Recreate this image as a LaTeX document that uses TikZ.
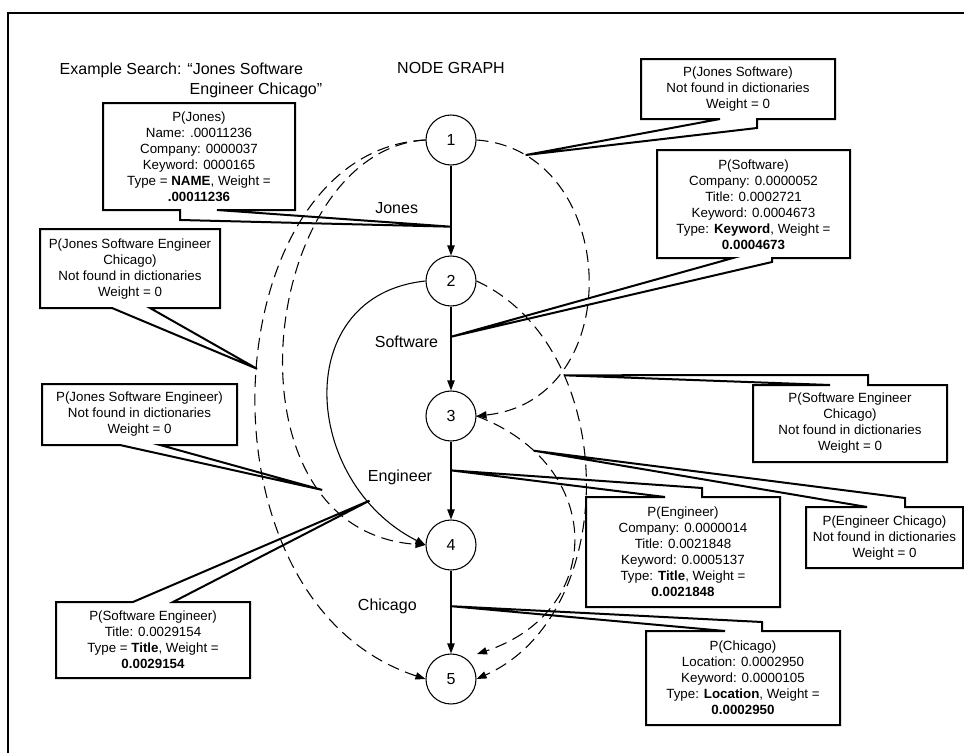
\documentclass[tikz,border=0pt]{standalone}
\usepackage{fontspec}
\setmainfont{Liberation Sans}
\usetikzlibrary{arrows.meta}

\tikzset{
  gnode/.style={circle, draw, line width=0.8pt, minimum size=37.5pt, inner sep=0pt, font=\fontsize{12}{14}\selectfont},
  edge/.style={->, line width=0.8pt},
  dashedge/.style={->, line width=0.8pt, dash pattern=on 9pt off 5pt},
  lbl/.style={font=\fontsize{12}{14}\selectfont},
  calltext/.style={align=center, font=\fontsize{10}{12}\selectfont, inner sep=0pt},
  callout/.style={line width=1.5pt},
}

\begin{document}
\begin{tikzpicture}[x=0.75pt, y=-0.75pt, >={Triangle[length=7.5pt,width=5.5pt]}]
    \useasboundingbox (0,0) rectangle (964,753);
    \draw[line width=1.5pt] (8,753) -- (8,13) -- (964,13);

    \node[lbl, anchor=west] (search1) at (55,70) {Example Search: “Jones Software};
    \node[lbl, anchor=west] (search2) at (185,90) {Engineer Chicago”};
    \node[lbl] (title) at (451,68) {NODE GRAPH};

    % graph nodes
    \node[gnode] (n1) at (451,140) {1};
    \node[gnode] (n2) at (451,281) {2};
    \node[gnode] (n3) at (451,416) {3};
    \node[gnode] (n4) at (451,545) {4};
    \node[gnode] (n5) at (451,679) {5};
    \coordinate (n5ne) at (477,654);

    % one word edges
    \draw[edge] (n1) -- node[lbl, pos=0.47, left=21pt] (lJones) {Jones} coordinate[pos=0.68] (tJones) (n2);
    \draw[edge] (n2) -- node[lbl, pos=0.42, left=6pt] (lSoft) {Software} coordinate[pos=0.36] (tSoft) (n3);
    \draw[edge] (n3) -- node[lbl, pos=0.46, left=10.5pt] (lEng) {Engineer} coordinate[pos=0.37] (tEng) (n4);
    \draw[edge] (n4) -- node[lbl, pos=0.43, left=22pt] (lChi) {Chicago} coordinate[pos=0.43] (tChi) (n5);

    % several word edges
    \draw[edge] (n2.west) .. controls (290,295) and (301,482) .. coordinate[pos=0.82] (tSE) (n4.west);
    \draw[dashedge] (n1.west) .. controls (260,150) and (215,530) .. coordinate[pos=0.78] (tJSE) (n4.west);
    \draw[dashedge] (n1.west) .. controls (215,150) and (185,600) .. coordinate[pos=0.48] (tJSEC) (n5.west);
    \draw[dashedge] (n1.east) .. controls (620,150) and (630,400) .. coordinate[pos=0.13] (tJS) (n3.east);
    \draw[dashedge] (n2.east) .. controls (621,348) and (622,614) .. coordinate[pos=0.28] (tSEC) (n5.east);
    \draw[dashedge] (n3.east) .. controls (606,465) and (606,611) .. coordinate[pos=0.18] (tEC) (n5ne);

    % callouts
    \draw[callout] (641,59) -- (835,59) -- (835,119) -- (757,119) -- (757,128) -- (tJS) -- (720,119) -- (641,119) -- cycle;
    \node[calltext] (cJS) at (738,89) {P(Jones Software)\\Not found in dictionaries\\Weight = 0};

    \draw[callout] (657,150) -- (850,150) -- (850,258) -- (772,258) -- (772,262) -- (tSoft) -- (733,258) -- (657,258) -- cycle;
    \node[calltext] (cSoft) at (753.5,205) {P(Software)\\Company: 0.0000052\\Title: 0.0002721\\Keyword: 0.0004673\\Type: \textbf{Keyword}, Weight =\\\textbf{0.0004673}};

    \draw[callout] (103,103) -- (295,103) -- (295,210) -- (217,210) -- (tJones) -- (180,220) -- (180,210) -- (103,210) -- cycle;
    \node[calltext] (cJones) at (199,157) {P(Jones)\\Name: .00011236\\Company: 0000037\\Keyword: 0000165\\Type = \textbf{NAME}, Weight =\\\textbf{.00011236}};

    \draw[callout] (40,229) -- (220,229) -- (220,308) -- (150,308) -- (tJSEC) -- (112,308) -- (40,308) -- cycle;
    \node[calltext] (cJSEC) at (130,269) {P(Jones Software Engineer\\Chicago)\\Not found in dictionaries\\Weight = 0};

    \draw[callout] (42,384) -- (237,384) -- (237,445) -- (160,445) -- (tJSE) -- (120,445) -- (42,445) -- cycle;
    \node[calltext] (cJSE) at (139.5,414.5) {P(Jones Software Engineer)\\Not found in dictionaries\\Weight = 0};

    \draw[callout] (753,385) -- (830,385) -- (tSEC) -- (868,375) -- (868,385) -- (947,385) -- (947,462) -- (753,462) -- cycle;
    \node[calltext] (cSEC) at (850,423.5) {P(Software Engineer\\Chicago)\\Not found in dictionaries\\Weight = 0};

    \draw[callout] (806,507) -- (867,507) -- (tEC) -- (905,498) -- (905,507) -- (963,507) -- (963,568) -- (806,568) -- cycle;
    \node[calltext] (cEC) at (884.5,538) {P(Engineer Chicago)\\Not found in dictionaries\\Weight = 0};

    \draw[callout] (586,497) -- (665,497) -- (tEng) -- (702,488) -- (702,497) -- (780,497) -- (780,607) -- (586,607) -- cycle;
    \node[calltext] (cEng) at (683,551.5) {P(Engineer)\\Company: 0.0000014\\Title: 0.0021848\\Keyword: 0.0005137\\Type: \textbf{Title}, Weight =\\\textbf{0.0021848}};

    \draw[callout] (646,631) -- (725,631) -- (tChi) -- (762,622) -- (762,631) -- (840,631) -- (840,725) -- (646,725) -- cycle;
    \node[calltext] (cChi) at (743,677.5) {P(Chicago)\\Location: 0.0002950\\Keyword: 0.0000105\\Type: \textbf{Location}, Weight =\\\textbf{0.0002950}};

    \draw[callout] (56,602) -- (133,602) -- (tSE) -- (173,602) -- (250,602) -- (250,678) -- (56,678) -- cycle;
    \node[calltext] (cSE) at (153,640) {P(Software Engineer)\\Title: 0.0029154\\Type = \textbf{Title}, Weight =\\\textbf{0.0029154}};
  \end{tikzpicture}
\end{document}
